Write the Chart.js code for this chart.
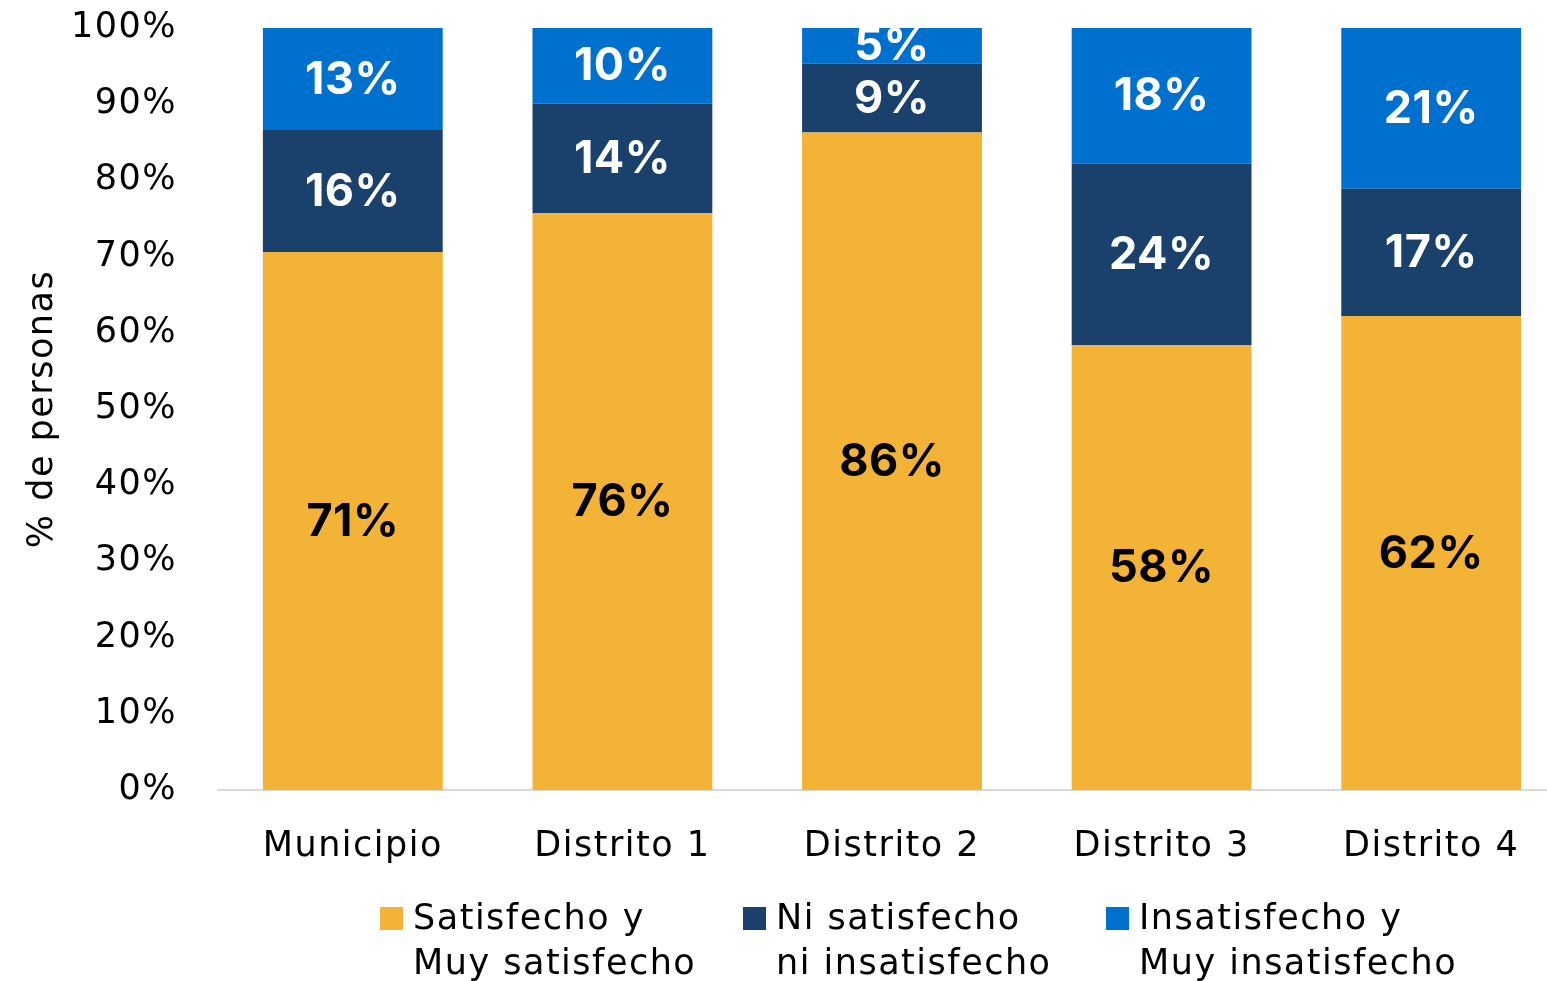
<!DOCTYPE html>
<html>
<head>
<meta charset="utf-8">
<script src="https://cdn.jsdelivr.net/npm/chart.js@4"></script>
<style>
  html, body { margin: 0; padding: 0; background: #fff; overflow: hidden; }
  #wrap { position: absolute; left: 0; top: 0; }
</style>
</head>
<body>
<div id="wrap"><canvas id="grafico" width="1566" height="1000"></canvas></div>
<script>
const categorias = ['Municipio', 'Distrito 1', 'Distrito 2', 'Distrito 3', 'Distrito 4'];
const satisfecho = [70.6, 75.7, 86.3, 58.4, 62.2];
const neutral = [16.0, 14.4, 9.0, 23.8, 16.7];
const insatisfecho = [13.4, 9.9, 4.7, 17.8, 21.1];
const nombresSeries = [
  ['Satisfecho y', 'Muy satisfecho'],
  ['Ni satisfecho', 'ni insatisfecho'],
  ['Insatisfecho y', 'Muy insatisfecho'],
];
const colores = ['#F3B336', '#1A416C', '#0070CF'];
const coloresTexto = ['#000000', '#ffffff', '#ffffff'];
const yTicks = [0, 10, 20, 30, 40, 50, 60, 70, 80, 90, 100];

const FUENTE = '"DejaVu Sans", sans-serif';
const FUENTE_ETIQ = 'Inter, sans-serif';
const ESPACIADO = '1.5px';

// espaciado de letras parecido al original
const espaciado = {
  id: 'espaciado',
  beforeUpdate(chart) { chart.ctx.letterSpacing = ESPACIADO; },
  beforeDraw(chart) { chart.ctx.letterSpacing = ESPACIADO; },
};

// etiquetas de porcentaje dentro de cada segmento
const etiquetas = {
  id: 'etiquetas',
  afterDatasetsDraw(chart) {
    const ctx = chart.ctx;
    ctx.save();
    ctx.letterSpacing = '0.5px';
    ctx.font = 'bold 45px ' + FUENTE_ETIQ;
    ctx.textAlign = 'center';
    ctx.textBaseline = 'middle';
    chart.data.datasets.forEach((ds, i) => {
      const meta = chart.getDatasetMeta(i);
      meta.data.forEach((bar, j) => {
        const v = ds.data[j];
        ctx.fillStyle = coloresTexto[i];
        ctx.fillText(Math.round(v) + '%', bar.x, (bar.y + bar.base) / 2 + 1);
      });
    });
    ctx.restore();
  }
};

// leyenda de dos líneas abajo
const leyenda = {
  id: 'leyenda',
  afterDraw(chart) {
    const ctx = chart.ctx;
    ctx.save();
    ctx.font = '35px ' + FUENTE;
    ctx.textAlign = 'left';
    ctx.textBaseline = 'middle';
    const x0 = 380, paso = 363, y0 = 920, alto = 45;
    chart.data.datasets.forEach((ds, i) => {
      const x = x0 + paso * i;
      ctx.fillStyle = ds.backgroundColor;
      ctx.fillRect(x, y0 - 13, 23, 23);
      ctx.fillStyle = '#000';
      ds.label.forEach((linea, k) => ctx.fillText(linea, x + 33, y0 + k * alto));
    });
    ctx.restore();
  }
};

const canvas = document.getElementById('grafico');
new Chart(canvas, {
  type: 'bar',
  data: {
    labels: categorias,
    datasets: [
      { label: nombresSeries[0], data: satisfecho, backgroundColor: colores[0] },
      { label: nombresSeries[1], data: neutral, backgroundColor: colores[1] },
      { label: nombresSeries[2], data: insatisfecho, backgroundColor: colores[2] },
    ],
  },
  plugins: [espaciado, etiquetas, leyenda],
  options: {
    responsive: false,
    animation: false,
    devicePixelRatio: 1,
    barPercentage: 1,
    categoryPercentage: 0.667,
    layout: { padding: { top: 28, right: 0, left: 0, bottom: 131 } },
    plugins: {
      legend: { display: false },
      tooltip: { enabled: false },
    },
    scales: {
      x: {
        stacked: true,
        afterFit(scale) { scale.height = 79; },
        grid: { display: false, drawTicks: false },
        border: { display: true, color: '#D9D9D9', width: 2 },
        ticks: { color: '#000', font: { family: FUENTE, size: 35 }, padding: 36, maxRotation: 0 },
      },
      y: {
        stacked: true,
        min: 0,
        max: 100,
        afterBuildTicks(scale) { scale.ticks = yTicks.map(v => ({ value: v })); },
        afterFit(scale) {
          scale.width = 218;
          scale.paddingTop = 0;
          scale.paddingBottom = 0;
        },
        grid: { display: false, drawTicks: false },
        border: { display: false },
        ticks: {
          color: '#000',
          font: { family: FUENTE, size: 35 },
          padding: 41,
          callback: v => v + '%',
        },
        title: {
          display: true,
          text: '% de personas',
          color: '#000',
          font: { family: FUENTE, size: 35 },
          padding: { top: 22, bottom: 0 },
        },
      },
    },
  },
});
</script>
</body>
</html>
